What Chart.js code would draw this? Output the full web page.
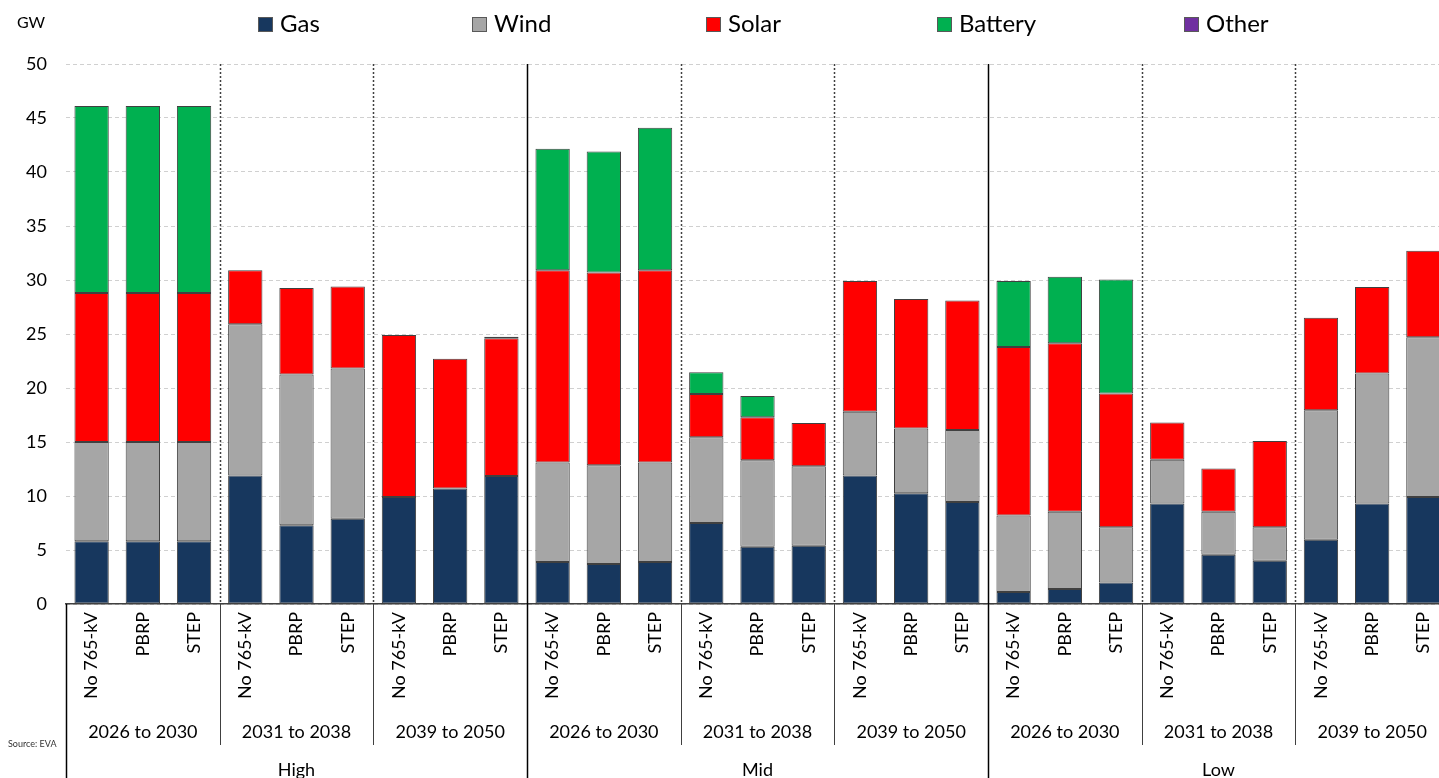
<!DOCTYPE html>
<html><head><meta charset="utf-8">
<script src="https://cdn.jsdelivr.net/npm/chart.js@4.4.1/dist/chart.umd.min.js"></script>
<style>html,body{margin:0;padding:0;background:#fff;overflow:hidden;} #wrap{width:1439px;height:778px;position:relative;overflow:hidden;} #c{position:absolute;left:0;top:0;}</style>
</head><body><div id="wrap"><canvas id="c" width="1449" height="778"></canvas></div>
<script>
// ---- data ----
const scenarios = ["High", "Mid", "Low"];
const periods = ["2026 to 2030", "2031 to 2038", "2039 to 2050"];
const cases = ["No 765-kV", "PBRP", "STEP"];
const yTicks = [0, 5, 10, 15, 20, 25, 30, 35, 40, 45, 50];
const seriesNames = ["Gas", "Wind", "Solar", "Battery", "Other"];

const gas = [
  5.8, 5.8, 5.8, 11.9, 7.3, 7.9, 9.9, 10.7, 11.85,
  3.9, 3.7, 3.9, 7.5, 5.3, 5.4, 11.9, 10.25, 9.45,
  1.1, 1.4, 2.0, 9.3, 4.55, 4.0, 5.95, 9.3, 9.9
];
const wind = [
  9.2, 9.2, 9.2, 14.0, 13.95, 13.9, 0, 0, 0,
  9.2, 9.15, 9.2, 7.95, 8.0, 7.35, 5.9, 6.0, 6.65,
  7.1, 7.15, 5.1, 4.05, 4.0, 3.1, 12.0, 12.05, 14.8
];
const solar = [
  13.8, 13.8, 13.8, 5.0, 8.0, 7.6, 15.0, 12.0, 12.75,
  17.8, 17.85, 17.8, 4.0, 4.0, 4.0, 12.1, 12.0, 12.0,
  15.6, 15.6, 12.4, 3.45, 4.0, 8.0, 8.55, 8.0, 8.0
];
const battery = [
  17.3, 17.3, 17.3, 0, 0, 0, 0, 0, 0.15,
  11.25, 11.2, 13.2, 2.0, 1.95, 0, 0, 0, 0,
  6.1, 6.15, 10.55, 0, 0, 0, 0, 0, 0
];
const other = [
  0, 0, 0, 0, 0, 0, 0, 0, 0,
  0, 0, 0, 0, 0, 0, 0, 0, 0,
  0, 0, 0, 0, 0, 0, 0, 0, 0
];

// ---- build ----
const FONT = "Lato, 'Open Sans', sans-serif";
const colors = ["#17375E", "#A6A6A6", "#FF0000", "#00B050", "#7030A0"];
const seriesData = [gas, wind, solar, battery, other];
const labels = [];
scenarios.forEach(s => periods.forEach(p => cases.forEach(c => labels.push(c))));

const datasets = seriesNames.map((name, k) => ({
  label: name,
  data: seriesData[k].map(v => v === 0 ? null : v),
  backgroundColor: colors[k],
  borderColor: "#404040",
  borderWidth: 1,
  borderSkipped: false,
  barPercentage: 0.67,
  categoryPercentage: 1.0
}));

const multiAxis = {
  id: "multiAxis",
  afterDraw(chart) {
    const ctx = chart.ctx;
    const xs = chart.scales.x;
    const ca = chart.chartArea;
    const step = xs.getPixelForValue(1) - xs.getPixelForValue(0);
    const bnd = i => xs.getPixelForValue(i) - step / 2;
    const H = chart.height;
    ctx.save();
    const n = labels.length;
    for (let i = 0; i < n; i += cases.length) {
      const x = Math.round(bnd(i)) + 0.5;
      const isScen = i % (cases.length * periods.length) === 0;
      if (isScen) {
        ctx.strokeStyle = "#000";
        ctx.lineWidth = 1.5;
        ctx.setLineDash([]);
        ctx.beginPath();
        ctx.moveTo(x, i === 0 ? ca.bottom : ca.top);
        ctx.lineTo(x, H);
        ctx.stroke();
      } else {
        ctx.strokeStyle = "#404040";
        ctx.lineWidth = 1.5;
        ctx.setLineDash([2, 2]);
        ctx.beginPath();
        ctx.moveTo(x, ca.top);
        ctx.lineTo(x, ca.bottom);
        ctx.stroke();
        ctx.setLineDash([]);
        ctx.lineWidth = 1;
        ctx.beginPath();
        ctx.moveTo(x, ca.bottom);
        ctx.lineTo(x, 745);
        ctx.stroke();
      }
    }
    // group labels
    ctx.fillStyle = "#000";
    ctx.textAlign = "center";
    ctx.textBaseline = "middle";
    ctx.font = "18px " + FONT;
    let idx = 0;
    scenarios.forEach((s, si) => {
      periods.forEach(p => {
        const a = bnd(idx), b = bnd(idx + cases.length);
        ctx.fillText(p, (a + b) / 2, 732);
        idx += cases.length;
      });
      const a = bnd(si * 9), b = bnd(si * 9 + 9);
      ctx.fillText(s, (a + b) / 2, 770);
    });
    // unit
    ctx.textAlign = "left";
    ctx.font = "16px " + FONT;
    ctx.fillText("GW", 17, 23);
    // source
    ctx.font = "9px " + FONT;
    ctx.fillStyle = "#333";
    ctx.fillText("Source: EVA", 8, 744);
    // legend
    const lx = [258, 472, 706, 937, 1184];
    ctx.font = "24px " + FONT;
    chart.data.datasets.forEach((ds, k) => {
      ctx.fillStyle = ds.backgroundColor;
      ctx.fillRect(lx[k], 17, 15, 15);
      ctx.strokeStyle = "#595959";
      ctx.lineWidth = 1;
      ctx.strokeRect(lx[k] + 0.5, 17.5, 14, 14);
      ctx.fillStyle = "#000";
      ctx.fillText(ds.label, lx[k] + 22, 24);
    });
    ctx.restore();
  }
};

new Chart(document.getElementById("c"), {
  type: "bar",
  data: { labels, datasets },
  plugins: [multiAxis],
  options: {
    responsive: false,
    devicePixelRatio: 1,
    animation: false,
    layout: { padding: { top: 64, left: 0, right: 0, bottom: 0 } },
    plugins: { legend: { display: false }, tooltip: { enabled: false } },
    scales: {
      x: {
        stacked: true,
        offset: true,
        grid: { display: false, drawTicks: false },
        border: { display: true, color: "#404040", width: 1.5 },
        ticks: {
          autoSkip: false, minRotation: 90, maxRotation: 90, padding: 8,
          color: "#000", font: { family: FONT, size: 18 },
          callback: (v, i) => labels[i]
        },
        afterFit: s => { s.height = 174; s.paddingLeft = 0; s.paddingRight = 0; }
      },
      y: {
        stacked: true,
        min: yTicks[0], max: yTicks[yTicks.length - 1],
        afterBuildTicks: s => { s.ticks = yTicks.map(v => ({ value: v })); },
        ticks: { padding: 19, color: "#000", font: { family: FONT, size: 18 } },
        grid: { color: "#D0D0D0", drawTicks: false, lineWidth: 1 },
        border: { display: false, dash: [4, 3] },
        afterFit: s => { s.width = 66; }
      }
    }
  }
});
</script>
</body></html>
